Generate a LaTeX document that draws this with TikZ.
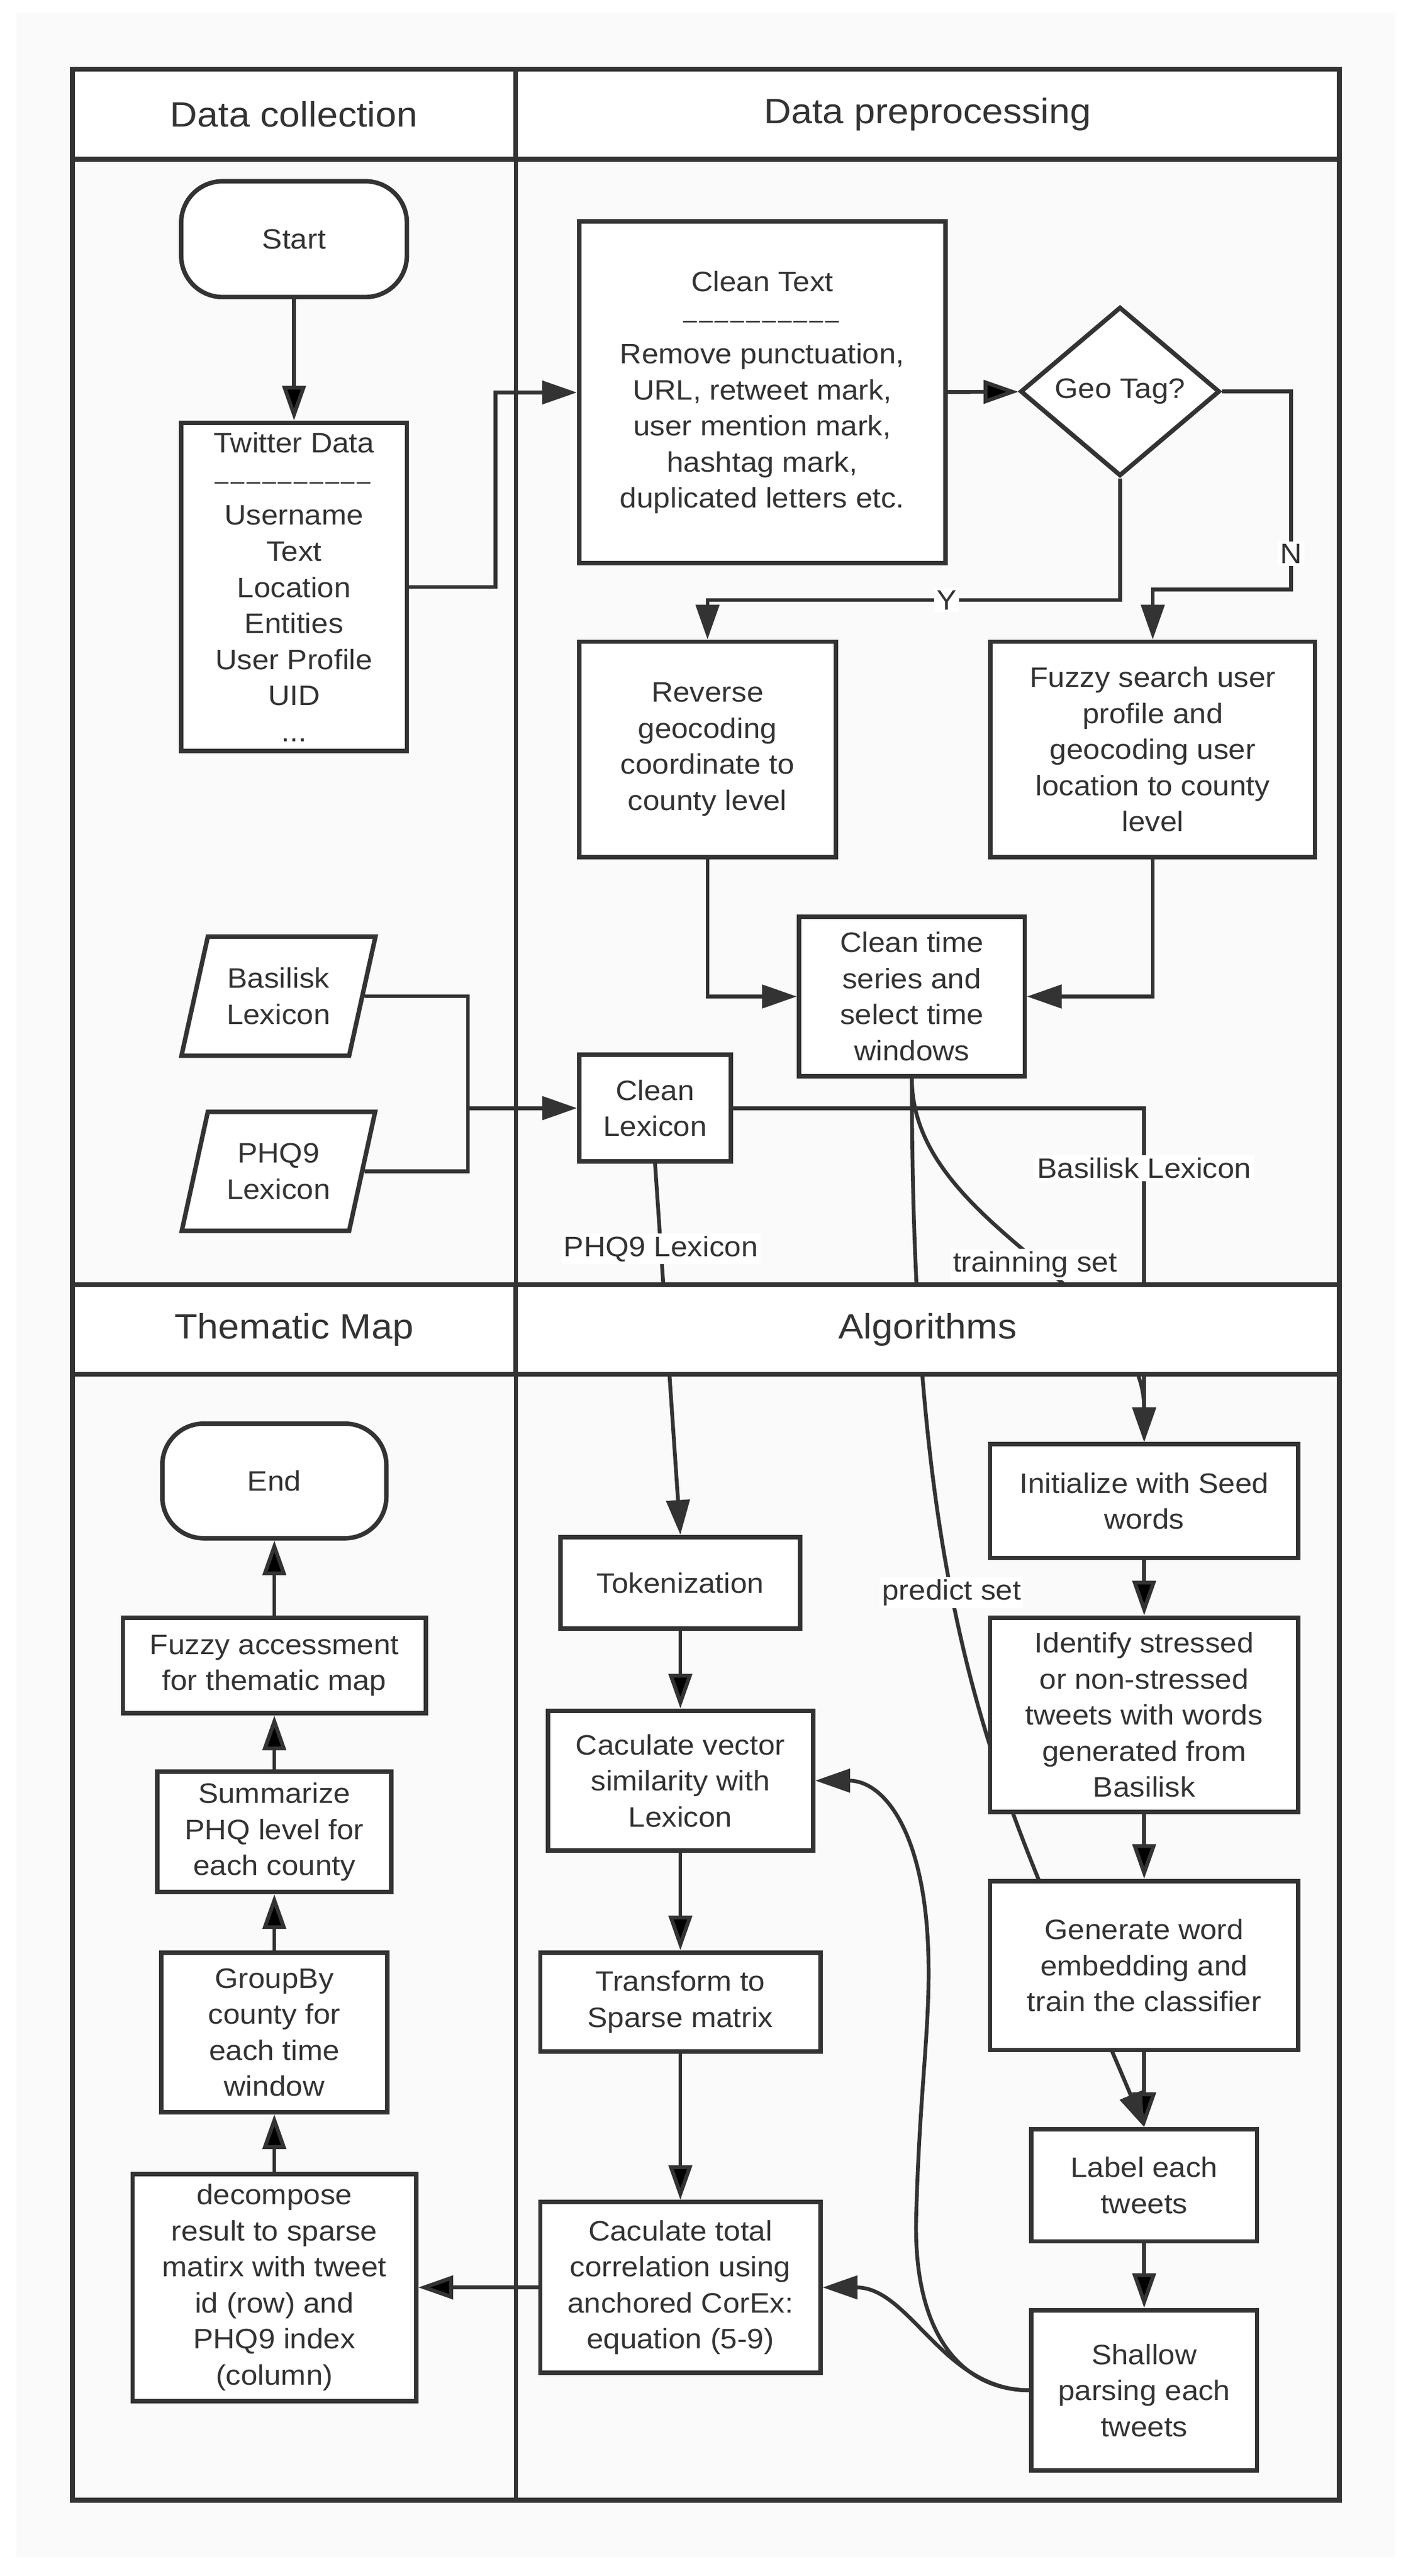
\documentclass[tikz,border=0pt]{standalone}
\usepackage{fontspec}
\setmainfont{Liberation Sans}[FakeStretch=1.07]
\usetikzlibrary{shapes.geometric,arrows.meta}
\definecolor{ink}{HTML}{333333}
\definecolor{panel}{HTML}{FAFAFA}
\pgfdeclarelayer{back}
\pgfdeclarelayer{links}
\pgfsetlayers{back,links,main}
\tikzstyle{box}=[draw=ink, line width=2.7pt, fill=white, text=ink, align=center, inner sep=2pt, font=\fontsize{17}{21.8}\selectfont]
\tikzstyle{term}=[box, rounded corners=25pt]
\tikzstyle{lexin}=[box, trapezium, trapezium left angle=72, trapezium right angle=108, trapezium stretches]
\tikzstyle{choice}=[box, diamond]
\tikzstyle{hdr}=[draw=ink, line width=2.9pt, fill=white, text=ink, inner sep=0pt, minimum height=54.4, font=\fontsize{21.3}{26}\selectfont]
\tikzstyle{arr}=[draw=ink, line width=2.3pt, -{Triangle[length=21pt,width=14pt]}]
\tikzstyle{lbl}=[fill=white, text=ink, inner sep=1.5pt, font=\fontsize{17}{20}\selectfont]
\newcommand{\proc}{\node[box]}
\newcommand{\dashrow}{{\fontsize{14}{14}\selectfont\foreach \k in {1,...,10}{\textendash\kern1.2pt}}}

\begin{document}
\begin{tikzpicture}[x=1pt,y=-1pt]
    \useasboundingbox (0,0) rectangle (857,1557.5);
    \begin{pgfonlayer}{back}
        \fill[panel] (9.9,7.4) rectangle (843.3,1546);
    \end{pgfonlayer}
    % lanes
    \draw[ink, line width=2.9pt] (43.7,41.8) rectangle (809.5,1511.7);
    \draw[ink, line width=2.4pt] (311.7,41.8) -- (311.7,1511.7);
    \node[hdr, minimum width=268] (hcol) at (177.7,69) {Data collection};
    \node[hdr, minimum width=497.8] (hpre) at (560.6,69) {Data preprocessing};
    \node[hdr, minimum width=268] (hmap) at (177.7,803.8) {Thematic Map};
    \node[hdr, minimum width=497.8] (halg) at (560.6,803.8) {Algorithms};

    % data collection
    \node[term, minimum width=136.4, minimum height=70] (start) at (177.7,144.6) {Start};
    \proc[minimum width=136.4, minimum height=198.6] (twitter) at (177.7,354.9)
        {Twitter Data\\\dashrow\\Username\\Text\\Location\\Entities\\User Profile\\UID\\...};
    \node[lexin, minimum width=117.5, minimum height=72] (basilisk) at (168.3,602.3) {Basilisk\\Lexicon};
    \node[lexin, minimum width=117.5, minimum height=72] (phq) at (168.3,708.2) {PHQ9\\Lexicon};
    \coordinate (lexjoin) at (282.8,670);

    % data preprocessing
    \proc[minimum width=221.5, minimum height=206.6] (cleantext) at (460.7,237.3)
        {Clean Text\\\dashrow\\Remove punctuation,\\URL, retweet mark,\\user mention mark,\\hashtag mark,\\duplicated letters etc.};
    \node[choice, minimum width=120.5, minimum height=96] (geo) at (676.9,236.7) {Geo Tag?};
    \proc[minimum width=155.3, minimum height=130.2] (reverse) at (427.6,453.1)
        {Reverse\\geocoding\\coordinate to\\county level};
    \proc[minimum width=196, minimum height=130.2] (fuzzy) at (696.7,453.1)
        {Fuzzy search user\\profile and\\geocoding user\\location to county\\level};
    \proc[minimum width=136.4, minimum height=96.4] (cleantime) at (551.1,602.5)
        {Clean time\\series and\\select time\\windows};
    \proc[minimum width=91.6, minimum height=64.5] (cleanlex) at (395.9,670) {Clean\\Lexicon};

    % thematic map
    \node[term, minimum width=135.4, minimum height=69.3] (endn) at (165.8,895.4) {End};
    \proc[minimum width=183, minimum height=57.7] (fuzzyacc) at (165.8,1007) {Fuzzy accessment\\for thematic map};
    \proc[minimum width=141.4, minimum height=72.7] (summ) at (165.8,1107.6) {Summarize\\PHQ level for\\each county};
    \proc[minimum width=136.4, minimum height=96.4] (groupby) at (165.8,1228.8) {GroupBy\\county for\\each time\\window};
    \proc[minimum width=171.3, minimum height=137.3] (decomp) at (165.8,1383)
        {decompose\\result to sparse\\matirx with tweet\\id (row) and\\PHQ9 index\\(column)};

    % algorithms
    \proc[minimum width=145, minimum height=55.4] (tok) at (411.2,957) {Tokenization};
    \proc[minimum width=160.3, minimum height=84.5] (vec) at (411.2,1076.6) {Caculate vector\\similarity with\\Lexicon};
    \proc[minimum width=169.3, minimum height=59.7] (transf) at (411.2,1210.4) {Transform to\\Sparse matrix};
    \proc[minimum width=169.3, minimum height=103.1] (total) at (411.2,1383)
        {Caculate total\\correlation using\\anchored CorEx:\\equation (5-9)};
    \proc[minimum width=186.2, minimum height=68.7] (init) at (691.5,907.6) {Initialize with Seed\\words};
    \proc[minimum width=186.2, minimum height=117.5] (ident) at (691.5,1036.8)
        {Identify stressed\\or non-stressed\\tweets with words\\generated from\\Basilisk};
    \proc[minimum width=186.2, minimum height=102.2] (gen) at (691.5,1188.4)
        {Generate word\\embedding and\\train the classifier};
    \proc[minimum width=136.4, minimum height=67.7] (labelt) at (691.5,1321.3) {Label each\\tweets};
    \proc[minimum width=136.4, minimum height=96.9] (shallow) at (691.5,1445.2) {Shallow\\parsing each\\tweets};

    \begin{pgfonlayer}{links}
    \path[arr]
    (start) edge (twitter)
    (cleantext) edge (geo)
    (tok) edge (vec)
    (vec) edge (transf)
    (transf) edge (total)
    (total) edge (decomp)
    (decomp) edge (groupby)
    (groupby) edge (summ)
    (summ) edge (fuzzyacc)
    (fuzzyacc) edge (endn)
    (init) edge (ident)
    (ident) edge (gen)
    (gen) edge (labelt)
    (labelt) edge (shallow);
    \draw[arr] (twitter.east) -- ++(52.1,0) |- (cleantext.west);
    \draw[arr] (geo.south) -- ++(0,73.6) -| node[lbl, pos=0.21] {Y} (reverse.north);
    \draw[arr] (geo.east) -| node[lbl, pos=0.91] {N} ++(41.9,119.7) -| (fuzzy.north);
    \draw[arr] (reverse.south) |- (cleantime.west);
    \draw[arr] (fuzzy.south) |- (cleantime.east);
    \draw[ink, line width=2.3pt] (basilisk.east) -| (lexjoin);
    \draw[ink, line width=2.3pt] (phq.east) -| (lexjoin);
    \draw[arr] (lexjoin) -- (cleanlex.west);
    \draw[arr] (cleanlex.east) -| node[lbl, pos=0.59] {Basilisk Lexicon} (init.north);
    \draw[arr] (cleanlex.south) -- node[lbl, pos=0.23] {PHQ9 Lexicon} (tok.north);
    \draw[arr] (cleantime.south) .. controls +(0,89.3) and +(0,-93) .. node[lbl, pos=0.52] {trainning set} (init.north);
    \draw[arr] (cleantime.south) .. controls +(0,350) and +(-84,-200) .. node[lbl, pos=0.39] {predict set} (labelt.north);
    \draw[arr] (shallow.west) .. controls (580,1445) and (552,1410) .. (553.7,1341)
        .. controls (555.5,1270) and (561.5,1230) .. (561.2,1190.6)
        .. controls (561,1110) and (535,1076.6) .. (vec.east);
    \draw[arr] (shallow.west) .. controls (570,1445) and (550,1383) .. (total.east);
    \end{pgfonlayer}
\end{tikzpicture}
\end{document}
